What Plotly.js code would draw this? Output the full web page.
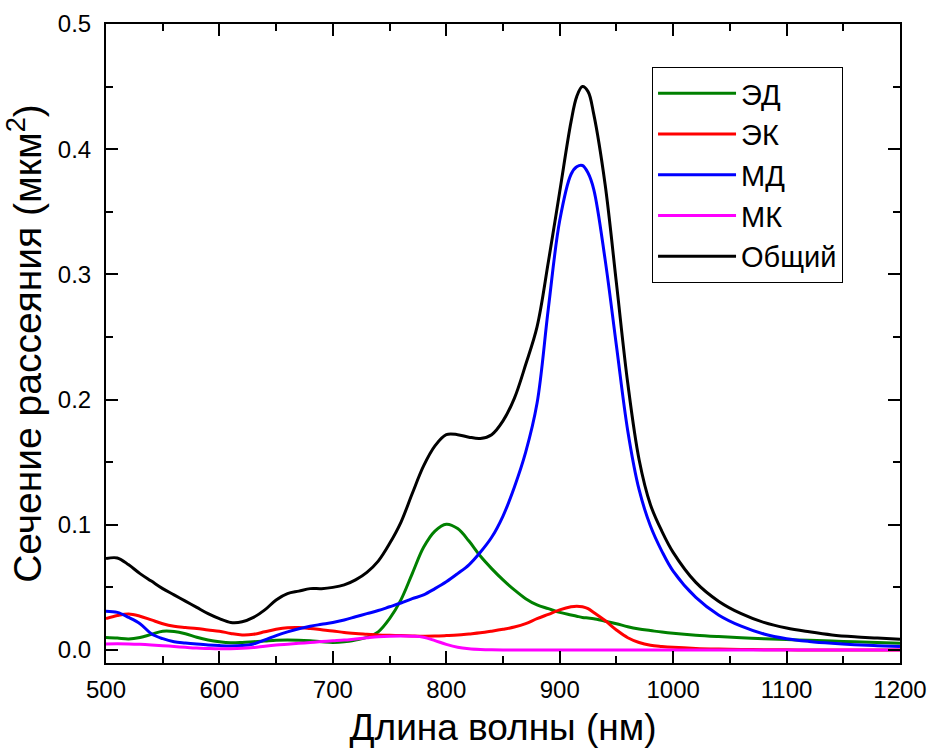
<!DOCTYPE html>
<html>
<head>
<meta charset="utf-8">
<script src="https://cdn.plot.ly/plotly-3.0.1.min.js"></script>
<style>html,body{margin:0;padding:0;background:#fff;}#chart{width:931px;height:754px;}</style>
</head>
<body>
<div id="chart"></div>
<script>
// Wavelength grid (nm)
const wavelength = [500,510,520,530,540,550,560,570,580,590,600,610,620,630,640,650,660,670,680,690,700,710,720,730,740,750,760,770,780,790,800,810,820,830,840,850,860,870,880,890,900,910,915,920,925,930,940,950,960,970,980,990,1000,1020,1040,1060,1080,1100,1120,1140,1160,1180,1200];

// Electric dipole (ЭД)
const ed = [0.010,0.0095,0.0088,0.010,0.0125,0.015,0.0148,0.013,0.0102,0.008,0.0065,0.0057,0.006,0.0066,0.0072,0.0078,0.008,0.0078,0.0073,0.0066,0.006,0.0065,0.008,0.010,0.0145,0.025,0.040,0.061,0.082,0.095,0.1005,0.097,0.087,0.075,0.065,0.056,0.048,0.041,0.036,0.033,0.030,0.028,0.027,0.026,0.0255,0.025,0.023,0.021,0.0185,0.0167,0.0155,0.0143,0.0133,0.0118,0.0107,0.0098,0.009,0.0083,0.0077,0.0071,0.0065,0.0059,0.0053];

// Electric quadrupole (ЭК)
const eq = [0.025,0.0275,0.0288,0.027,0.024,0.021,0.019,0.018,0.0172,0.016,0.015,0.0132,0.012,0.0125,0.0145,0.0165,0.0178,0.018,0.0172,0.0162,0.0152,0.014,0.0132,0.0126,0.012,0.0117,0.0115,0.0112,0.011,0.0111,0.0115,0.012,0.0128,0.0137,0.015,0.0165,0.0183,0.021,0.025,0.0285,0.032,0.0345,0.035,0.0345,0.033,0.030,0.0235,0.016,0.0098,0.006,0.0038,0.0028,0.0021,0.0012,0.0007,0.0004,0.0002,0.0001,0,0,0,0,0];

// Magnetic dipole (МД)
const md = [0.031,0.030,0.026,0.021,0.013,0.009,0.0065,0.0055,0.0047,0.004,0.0035,0.0032,0.0035,0.0048,0.008,0.0115,0.0145,0.017,0.019,0.0205,0.022,0.024,0.0265,0.029,0.0315,0.0345,0.0375,0.041,0.044,0.049,0.0545,0.061,0.068,0.078,0.090,0.107,0.130,0.158,0.197,0.273,0.343,0.380,0.386,0.387,0.381,0.368,0.312,0.243,0.175,0.128,0.099,0.079,0.063,0.042,0.028,0.019,0.0128,0.009,0.0068,0.0053,0.0042,0.0034,0.0027];

// Magnetic quadrupole (МК)
const mq = [0.0048,0.0049,0.0048,0.0045,0.004,0.0034,0.0028,0.0021,0.0015,0.0012,0.001,0.001,0.0013,0.002,0.003,0.0039,0.0046,0.0053,0.006,0.0067,0.0073,0.0079,0.0088,0.0097,0.0105,0.011,0.0112,0.011,0.0102,0.0075,0.0045,0.0022,0.001,0.0004,0.0001,0,0,0,0,0,0,0,0,0,0,0,0,0,0,0,0,0,0,0,0,0,0,0,0,0,0,0,0];

// Total (Общий)
const total = [0.073,0.0735,0.068,0.061,0.055,0.049,0.044,0.039,0.034,0.029,0.025,0.022,0.0225,0.026,0.032,0.040,0.045,0.047,0.049,0.049,0.050,0.052,0.056,0.062,0.071,0.085,0.102,0.125,0.147,0.163,0.172,0.172,0.170,0.169,0.172,0.183,0.201,0.228,0.258,0.310,0.366,0.422,0.442,0.450,0.446,0.428,0.372,0.293,0.213,0.152,0.116,0.095,0.078,0.054,0.039,0.029,0.022,0.0175,0.0145,0.012,0.0105,0.0095,0.0085];

const seriesNames = ["ЭД","ЭК","МД","МК","Общий"];
const seriesColors = ["#008000","#ff0000","#0000ff","#ff00ff","#000000"];
const seriesValues = [ed, eq, md, mq, total];

const xTickVals = [500,600,700,800,900,1000,1100,1200];
const yTickVals = [0.0,0.1,0.2,0.3,0.4,0.5];

const traces = seriesValues.map((vals, i) => ({
  x: wavelength, y: vals, type: "scatter", mode: "lines",
  name: seriesNames[i],
  line: {color: seriesColors[i], width: 3, shape: "spline", smoothing: 1}
}));

const fontFam = "Arial, 'Liberation Sans', sans-serif";
const axisCommon = {
  showline: true, linewidth: 2, linecolor: "#000", mirror: "ticks",
  ticks: "inside", ticklen: 12, tickwidth: 2, tickcolor: "#000",
  showgrid: false, zeroline: false,
  tickfont: {family: fontFam, size: 24, color: "#000"},
  automargin: false
};

const layout = {
  width: 931, height: 754,
  margin: {l: 106, r: 31, t: 24, b: 91},
  paper_bgcolor: "#fff", plot_bgcolor: "#fff",
  showlegend: true,
  legend: {
    x: 0.6877, y: 0.9327, xanchor: "left", yanchor: "top",
    bgcolor: "#fff", bordercolor: "#000", borderwidth: 1,
    font: {family: fontFam, size: 29, color: "#000"},
    itemwidth: 78,
    tracegroupgap: 0
  },
  xaxis: Object.assign({}, axisCommon, {
    range: [500, 1200], tickmode: "array", tickvals: xTickVals,
    ticktext: xTickVals.map(String),
    minor: {dtick: 50, tick0: 500, ticks: "inside", ticklen: 7, tickwidth: 2, tickcolor: "#000", showgrid: false},
    ticklabelstandoff: 4,
    title: {text: "Длина волны (нм)", font: {family: fontFam, size: 37, color: "#000"}, standoff: 12}
  }),
  yaxis: Object.assign({}, axisCommon, {
    range: [-0.0104, 0.5], tickmode: "array", tickvals: yTickVals,
    ticktext: yTickVals.map(v => v.toFixed(1)),
    minor: {dtick: 0.05, tick0: 0, ticks: "inside", ticklen: 7, tickwidth: 2, tickcolor: "#000", showgrid: false},
    ticklabelstandoff: 8,
    title: {text: "Сечение рассеяния (мкм<sup>2</sup>)\u00a0\u00a0\u00a0\u00a0", font: {family: fontFam, size: 39, color: "#000"}, standoff: 12}
  })
};

Plotly.newPlot("chart", traces, layout, {displayModeBar: false, staticPlot: true});
</script>
</body>
</html>
